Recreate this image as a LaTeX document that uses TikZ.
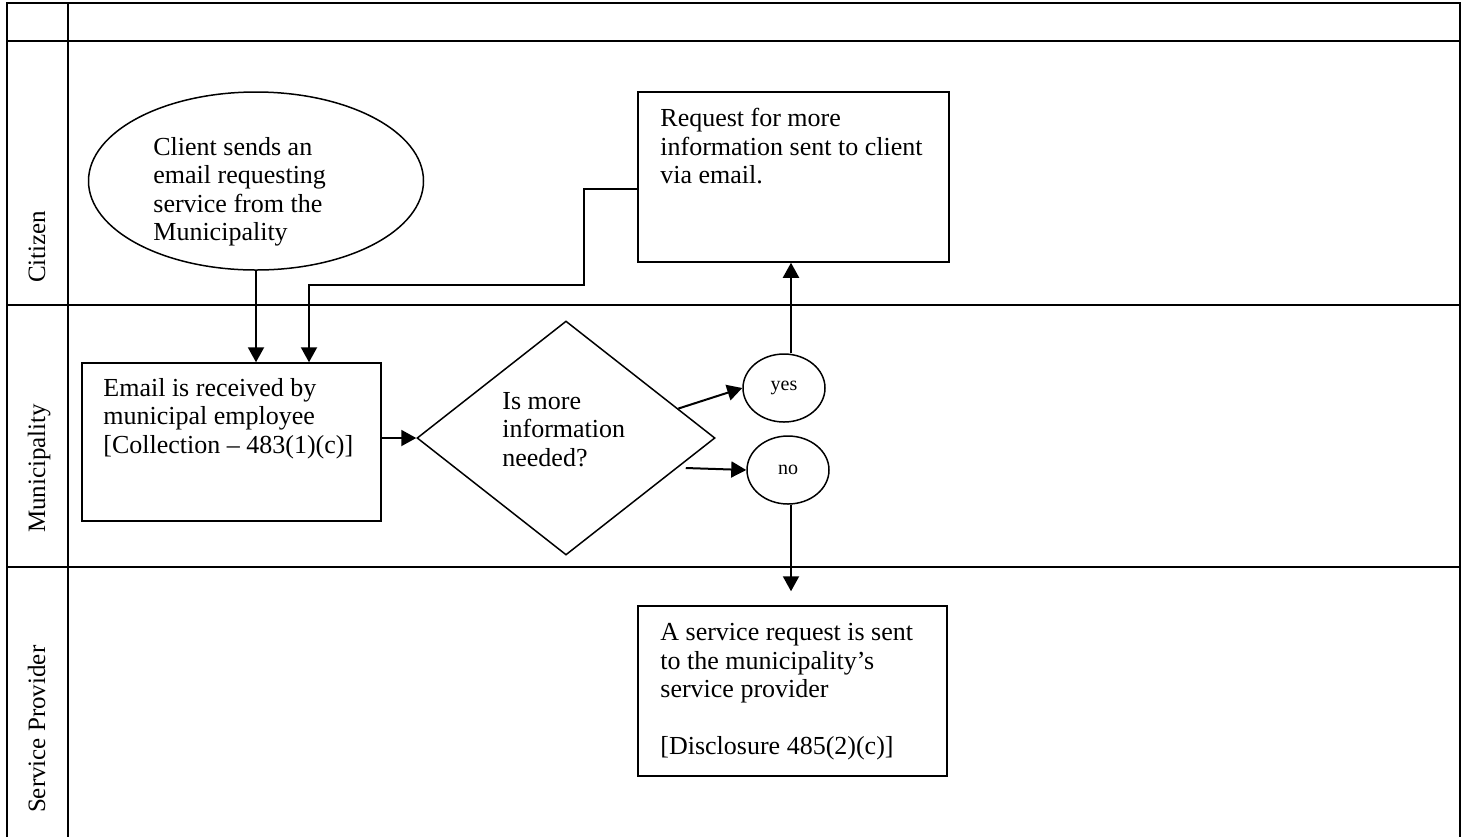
\documentclass[tikz,border=0pt]{standalone}
\usepackage{fontspec}
\setmainfont{Liberation Serif}
\usetikzlibrary{arrows.meta,positioning,shapes.geometric,calc}

\begin{document}
\begin{tikzpicture}[x=0.5pt, y=-0.5pt, >={Triangle[length=7.5pt,width=8pt]},
  lane/.style={line width=1.4pt},
  shapeline/.style={draw, line width=0.75pt, inner sep=0pt},
  txt/.style={anchor=north west, align=left, inner sep=0pt, font=\fontsize{13}{14.2}\selectfont},
  lanelabel/.style={rotate=90, anchor=base west, font=\fontsize{12.5}{14}\selectfont},
  answer/.style={shapeline, ellipse, minimum width=41pt, minimum height=34pt, font=\fontsize{10}{12}\selectfont},
  flow/.style={->, line width=1pt}]
  \useasboundingbox (0,0) rectangle (1467,837);
  % --- swimlanes ---
  \draw[lane] (7,837) -- (7,3) -- (1460,3) -- (1460,837);
  \draw[lane] (68,3) -- (68,837);
  \foreach \y in {41,305,567}
    \draw[lane] (7,\y) -- (1460,\y);
  \node[lanelabel] (citizen) at (45,290) {Citizen};
  \node[lanelabel] (muni) at (45,540) {Municipality};
  \node[lanelabel] (provider) at (45,820) {Service Provider};

  % --- Citizen ---
  \node[shapeline, ellipse, minimum width=167.5pt, minimum height=89pt] (client) at (256,181) {};
  \node[txt] (clienttxt) at (153,137) {Client sends an\\ email requesting\\ service from the\\ Municipality};
  \node[shapeline, minimum width=155.5pt, minimum height=85pt] (req) at (793.5,177) {};
  \node[txt] (reqtxt) at (660,108) {Request for more\\ information sent to client\\ via email.};

  % --- Municipality ---
  \node[shapeline, minimum width=149.5pt, minimum height=79pt] (recv) at (231.5,442) {};
  \node[txt] (recvtxt) at (103,378) {Email is received by\\ municipal employee\\ {[}Collection -- 483(1)(c)]};
  \node[shapeline, diamond, minimum width=149pt, minimum height=117pt] (need) at (566,438) {};
  \node[txt] (needtxt) at (502,392) {Is more\\ information\\ needed?};
  \node[answer] (yes) at (784,388) {yes};
  \node[answer] (no) at (788,470) {no};

  % --- Service Provider ---
  \node[shapeline, minimum width=154.5pt, minimum height=85pt] (sp) at (792.5,691) {};
  \node[txt] (sptxt) at (660,623) {A service request is sent\\ to the municipality’s\\ service provider\\[14.2pt] {[}Disclosure 485(2)(c)]};

  % --- connectors ---
  \coordinate (bend) at (584,285);
  \draw[flow] (client.south) -- (client.south |- recv.north);
  \draw[flow] ([yshift=-6pt]req.west) -| (bend) -| ([xshift=38.75pt]recv.north);
  \draw[flow] (recv.east |- need.west) -- (need.west);
  \draw[flow] ($(need.north east)!0.5!(need.east)$) -- (yes.west);
  \draw[flow] ([xshift=-15pt,yshift=-15pt]need.east) -- (no.west);
  \draw[flow] ([xshift=3.5pt]yes.north) -- ([xshift=3.5pt]yes.north |- req.south);
  \draw[flow, shorten >=7pt] ([xshift=1.5pt]no.south) -- ([xshift=1.5pt]no.south |- sp.north);
\end{tikzpicture}
\end{document}
